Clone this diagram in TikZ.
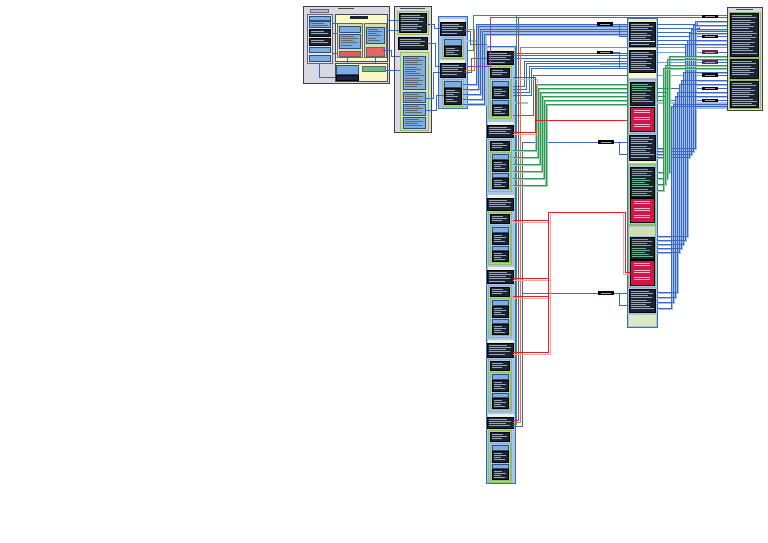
\documentclass[tikz,border=0pt]{standalone}
\definecolor{dk}{HTML}{1C2430}
\definecolor{rowc}{HTML}{9AA8BE}
\definecolor{lb}{HTML}{A9C6E6}
\definecolor{bb}{HTML}{3E6DB8}
\definecolor{gb}{HTML}{8CC063}
\definecolor{gy}{HTML}{D9D9E4}
\definecolor{bx}{HTML}{7FAEDD}
\definecolor{cr}{HTML}{D0164A}
\definecolor{wb}{HTML}{3A68BE}
\definecolor{wl}{HTML}{A6BFE4}
\definecolor{wg}{HTML}{2F9A58}
\definecolor{wgl}{HTML}{9ACFAE}
\definecolor{wr}{HTML}{E02222}
\definecolor{wrl}{HTML}{F2A8A8}
\definecolor{wo}{HTML}{E07A12}
\definecolor{wp}{HTML}{8E3FB4}
\definecolor{yl}{HTML}{FAF8C8}
\definecolor{hd}{HTML}{EEF0E4}
\definecolor{lg}{HTML}{CFE0AE}
\definecolor{pl}{HTML}{5B2A55}
\definecolor{gtx}{HTML}{6FB08C}
\tikzset{
 dkbox/.style={fill=dk,draw=black,line width=0.5pt},
 frame/.style={fill=gy,draw=black!75,line width=0.8pt},
 colbox/.style={fill=lb,draw=bb,line width=1pt},
 grnbox/.style={fill=lb,draw=gb,line width=0.8pt},
 bluebox/.style={fill=bx,draw=bb!70!black,line width=0.5pt},
 crbox/.style={fill=cr,draw=black,line width=0.5pt},
 wire/.style={wb,line width=0.8pt},
 wlite/.style={wl,line width=2.4pt},
 wund/.style={wl,line width=1.8pt},
 gwire/.style={wg,line width=0.8pt},
 gwlite/.style={wgl,line width=2.2pt},
 rwire/.style={wr,line width=0.8pt},
 rwlite/.style={wrl,line width=0.9pt},
 owire/.style={wo,line width=0.8pt},
 pwire/.style={wp,line width=0.8pt},
}
\newcommand\rowl[5][rowc]{%
 \pgfmathsetmacro\ra{#3+2}%
 \pgfmathsetmacro\rb{#3+4.2}%
 \pgfmathsetmacro\rc{#5-1.4}%
 \foreach \yy [count=\k] in {\ra,\rb,...,\rc}{%
   \pgfmathsetmacro\xe{#4-1.5-mod(\k*5,9)}%
   \draw[#1,line width=0.45pt] (#2+1.5,\yy) -- (\xe,\yy);}%
}
\newcommand\dkr[5][rowc]{\draw[dkbox] (#2,#3) rectangle (#4,#5); \rowl[#1]{#2}{#3}{#4}{#5}}
\newcommand\blr[4]{\draw[bluebox] (#1,#2) rectangle (#3,#4); \rowl[dk!70]{#1}{#2}{#3}{#4}}
\newcommand\crb[4]{\draw[crbox] (#1,#2) rectangle (#3,#4);
 \foreach \t in {3,5.5,10,12.5,17,19.5}{\draw[white!70!cr,line width=.45pt] (#1+4,#2+\t) -- (#3-4,#2+\t);}}
\newcommand\mylab[3]{\fill[#3] (#1,#2-1.6) rectangle (#1+16,#2+1.6);
 \draw[gray!70,line width=.35pt] (#1+3,#2) -- (#1+13,#2);}
\newcommand\dunit[2]{%
 \fill[hd] (487.5,#1) rectangle (513.5,#1+3);
 \dkr{487.5}{#1+3}{513.5}{#2-2}
 \draw[grnbox] (488.5,#2) rectangle (511.5,#2+52);
 \dkr{490.5}{#2+2}{509.5}{#2+11}
 \draw[grnbox] (490,#2+13) rectangle (510,#2+50.5);
 \draw[bluebox] (492,#2+15) rectangle (508,#2+20);
 \dkr{492}{#2+21}{508}{#2+32}
 \draw[bluebox] (492,#2+34) rectangle (508,#2+38);
 \dkr{492}{#2+39}{508}{#2+49}
}
\begin{document}
\begin{tikzpicture}[x=1pt,y=-1pt]
\useasboundingbox[fill=white] (0,0) rectangle (768,543);

% ---------- Box A ----------
\draw[frame] (303,6) rectangle (389,83);
\draw[black!70,line width=.6pt] (338,8.5)--(354,8.5);
\draw[fill=wp!45!white,draw=black!60,line width=.4pt] (310,9.5) rectangle (328,12.5);
\draw[fill=gy!70!white,draw=black!60,line width=.5pt] (307,14) rectangle (332,63);
\draw[bluebox] (309,16) rectangle (330,20);
\blr{309}{21}{330}{27}
\dkr{309}{29}{330}{36}
\dkr{309}{38}{330}{45}
\draw[bluebox] (309,47) rectangle (330,52);
\draw[bluebox] (309,55) rectangle (330,61);
\draw[fill=yl,draw=black!70,line width=.6pt] (335,14) rectangle (387,61);
\fill[dk] (350,16) rectangle (368,19.5);
\draw[fill=lg,draw=black!60,line width=.5pt] (337,23) rectangle (362,57);
\draw[bluebox] (339,26) rectangle (360,32);
\blr{339}{34}{360}{48}
\draw[fill=wr!75!white,draw=black!60,line width=.5pt] (339,51) rectangle (360,56);
\draw[fill=lg,draw=black!60,line width=.5pt] (364,23) rectangle (386,57);
\blr{366}{27}{384}{43}
\draw[fill=wr!70!white,draw=black!60,line width=.5pt] (366,47) rectangle (384,56);
\draw[fill=yl,draw=black!70,line width=.6pt] (335,63) rectangle (387,81);
\draw[bluebox] (336,65) rectangle (358,74);
\draw[fill=wg!70!white,draw=black!60,line width=.5pt] (362,66) rectangle (385,71);
\draw[dkbox] (336,75.5) rectangle (358,80);

% ---------- Box B ----------
\draw[frame] (394,6) rectangle (431,132);
\draw[black!70,line width=.6pt] (400,8.5)--(425,8.5);
\draw[fill=lg,draw=gb,line width=.8pt] (397,11) rectangle (428,34);
\dkr{399}{13}{426}{32}
\dkr{398}{37}{427}{49}
\draw[fill=lg,draw=gb,line width=.8pt] (400,52) rectangle (428,130);
\blr{403}{56}{425}{89}
\blr{403}{92}{425}{102}
\blr{403}{104}{425}{115}
\blr{403}{117}{425}{128}

% ---------- Box C ----------
\draw[colbox] (438,17) rectangle (467,108);
\fill[hd] (440,19) rectangle (465,22);
\dkr{440}{22}{465}{35}
\draw[grnbox] (442,37) rectangle (463,58);
\draw[bluebox] (444,39) rectangle (461,45);
\dkr{444}{46}{461}{56}
\fill[hd] (440,60) rectangle (465,63);
\dkr{440}{63}{465}{77}
\draw[grnbox] (442,79) rectangle (463,106);
\draw[bluebox] (444,81) rectangle (461,87);
\dkr{444}{88}{461}{104}

% ---------- Column D ----------
\draw[colbox] (486,47) rectangle (515,483);
\dunit{48}{66}
\dunit{122}{139}
\dunit{195}{212}
\dunit{267}{285}
\dunit{340}{359}
\dunit{414}{430}

% ---------- Column E ----------
\draw[colbox] (627,18.5) rectangle (657,327);
\fill[lg!60!yellow!60!white] (628.5,19.5) rectangle (655.5,22);
\dkr{629}{22}{655}{46}
\draw[yellow!70!white,line width=1pt] (629,42)--(655,42);
\fill[hd] (628.5,47) rectangle (655.5,50);
\dkr{629}{50}{655}{72}
\fill[yl] (628.5,73) rectangle (655.5,78);
\draw[grnbox] (628.5,79) rectangle (655.5,133);
\dkr[gtx]{630}{82}{654}{105}
\crb{630}{107}{654}{131}
\dkr{629}{135}{655}{160}
\fill[hd] (628.5,160.5) rectangle (655.5,163);
\draw[grnbox] (628.5,164) rectangle (655.5,224);
\dkr[gtx]{630}{167}{654}{197}
\crb{630}{198}{654}{222}
\draw[grnbox] (628.5,225.5) rectangle (655.5,287);
\fill[lg] (629,226.5) rectangle (655,236);
\dkr[gtx]{630}{237}{654}{259}
\crb{630}{260}{654}{285}
\dkr{629}{289}{655}{312}
\fill[lg!70!white] (628.5,315) rectangle (655.5,326);

% ---------- Box F ----------
\draw[frame] (727,7) rectangle (762,110);
\draw[black!70,line width=.6pt] (736,9)--(753,9);
\draw[grnbox,fill=gy] (729,12) rectangle (760,57);
\dkr{730.5}{13.5}{758.5}{56}
\draw[grnbox,fill=gy] (729,58) rectangle (760,79);
\dkr{730.5}{59.5}{758.5}{78}
\draw[grnbox,fill=gy] (729,80) rectangle (760,108);
\dkr{730.5}{81.5}{758.5}{107}

% ================= connectors =================
% A internal and A -> B
\draw[wire] (332,23)--(337,23);
\draw[wire] (332,33)--(337,33);
\draw[wire] (332,53)--(337,53);
\draw[wire] (319,63)--(319,77)--(335,77);
\draw[wire] (347,57)--(347,63);
\draw[wire] (375,57)--(375,63);
\draw[wire] (387,20)--(399,20);
\draw[wire] (386,30)--(399,30);
\draw[wire] (382,50)--(391,50)--(391,56)--(400,56);
\draw[wire] (386,70)--(400,70);
% B -> C
\draw[wire] (426,24)--(434,24)--(434,28)--(440,28);
\draw[wire] (427,43)--(435,43)--(435,66)--(440,66);
\draw[wire] (425,98)--(433,98)--(433,72)--(440,72);
\draw[wire] (425,110)--(436,110)--(436,95)--(444,95);

% light underlays
\draw[wlite] (467,41)--(487,41);
\draw[wlite] (467,104)--(486,104);
\draw[wlite] (513,103)--(528,103);
\draw[wlite] (600,64)--(627,64);
\draw[wlite] (657,103)--(727,103);

% C -> E
\foreach \i in {0,...,4}{
 \draw[wund] (463,85.2+5*\i)--(477.2+2.2*\i,85.2+5*\i)--(477.2+2.2*\i,25.2+2.6*\i)--(627,25.2+2.6*\i);}
\foreach \i in {0,...,4}{
 \draw[wire] (463,84+5*\i)--(476+2.2*\i,84+5*\i)--(476+2.2*\i,24+2.6*\i)--(627,24+2.6*\i);}
\draw[wire] (465,31)--(470,31)--(470,44)--(487,44);
\draw[wire] (465,72)--(471,72)--(471,58)--(487,58);

% D -> E top
\foreach \i in {0,1,2}{\draw[wire] (513,53+2.5*\i)--(627,53+2.5*\i);}
\foreach \i in {0,...,3}{
 \draw[wire] (513,86+3*\i)--(524+2.5*\i,86+3*\i)--(524+2.5*\i,61+2.5*\i)--(627,61+2.5*\i);}
\draw[wire] (513,115)--(533,115)--(533,75)--(627,75);

% long verticals right of D
\draw[gwire] (467,50)--(473,50)--(473,15)--(727,15);
\draw[gwire] (516.5,15)--(516.5,424)--(513,424);
\draw[pwire] (467,66)--(490.5,66)--(490.5,17)--(727,17);
\draw[pwire] (518.5,17)--(518.5,420)--(513,420);
\draw[owire] (727,47)--(520.5,47)--(520.5,422)--(513,422);
\draw[owire] (465,29)--(474.5,29)--(474.5,70)--(465,70);
\draw[wire] (513,426)--(522.5,426)--(522.5,142)--(598,142);
\draw[wire] (522.5,293)--(598,293);
\draw[wire] (613,142)--(627,142);
\draw[wire] (619,142)--(619,154)--(627,154);
\draw[wire] (613,293)--(627,293);
\draw[wire] (619,293)--(619,305)--(627,305);
\draw[wire] (613,24)--(619,24)--(619,36)--(627,36);
\draw[wire] (613,52.5)--(619,52.5)--(619,68)--(627,68);

% green D -> E
\foreach \i in {0,...,5}{
 \draw[gwlite] (513,151+7*\i)--(536.5+2*\i,151+7*\i)--(536.5+2*\i,85+4*\i)--(627,85+4*\i);}
\foreach \i in {0,...,5}{
 \draw[gwire] (513,150+7*\i)--(536.5+2*\i,150+7*\i)--(536.5+2*\i,84+4*\i)--(627,84+4*\i);}

% red
\draw[rwlite] (513,79)--(537,79)--(537,134)--(513,134);
\draw[rwire] (513,77)--(535,77)--(535,132)--(513,132);
\draw[rwire] (535,120)--(627,120);
\draw[rwlite] (513,222)--(550,222);
\draw[rwlite] (513,280)--(550,280);
\draw[rwlite] (513,298)--(550,298);
\draw[rwlite] (550,214)--(550,354)--(513,354);
\draw[rwire] (513,220)--(548,220);
\draw[rwire] (513,278)--(548,278);
\draw[rwire] (513,296)--(548,296);
\draw[rwire] (548,212)--(548,352)--(513,352);
\draw[rwire] (548,212)--(625,212)--(625,272)--(630,272);
\draw[rwlite] (623,214)--(623,274)--(630,274);

% E -> F short
\foreach \a/\v/\b in {24/697/21, 28/699/26, 32/696/31, 36.5/700/36.5, 40/694/41, 44/698/44.5,
  52/700/52, 62/700/62, 75/700/75, 88.5/700/88.5, 100.5/700/100.5}{
 \draw[wire] (657,\a)--(\v,\a)--(\v,\b)--(727,\b);}
% F -> E long
\foreach \a/\v/\b in {21.5/695/148, 25/693/151, 29/691/154, 33/689/157, 40/687/236, 44/685/240,
  72/683/244, 80/681/248, 84/679/252, 92/677/292, 96/675/297, 104/673/302, 106.5/671/308}{
 \draw[wund] (727,\a+1.1)--(\v+1.1,\a+1.1)--(\v+1.1,\b+1.1)--(657,\b+1.1);}
\foreach \a/\v/\b in {21.5/695/148, 25/693/151, 29/691/154, 33/689/157, 40/687/236, 44/685/240,
  72/683/244, 80/681/248, 84/679/252, 92/677/292, 96/675/297, 104/673/302, 106.5/671/308}{
 \draw[wire] (727,\a)--(\v,\a)--(\v,\b)--(657,\b);}
% green E <-> F
\foreach \a/\v/\b in {56/669/172, 59/667/178, 65/665/184, 68/663/190}{
 \draw[gwlite] (727,\a+1)--(\v+1,\a+1)--(\v+1,\b+1)--(657,\b+1);
 \draw[gwire] (727,\a)--(\v,\a)--(\v,\b)--(657,\b);}
\foreach \a/\v in {88/669, 92/667, 96/665, 100/663}{\draw[gwire] (657,\a)--(\v,\a);}

% labels
\mylab{597}{24}{black}
\mylab{597}{52.5}{black}
\mylab{598}{142}{black}
\mylab{598}{293}{black}
\mylab{702}{16.5}{black}
\mylab{702}{36.5}{black}
\mylab{702}{52}{pl}
\mylab{702}{62}{pl}
\mylab{702}{75}{black}
\mylab{702}{88.5}{black}
\mylab{702}{100.5}{black}
\end{tikzpicture}
\end{document}
